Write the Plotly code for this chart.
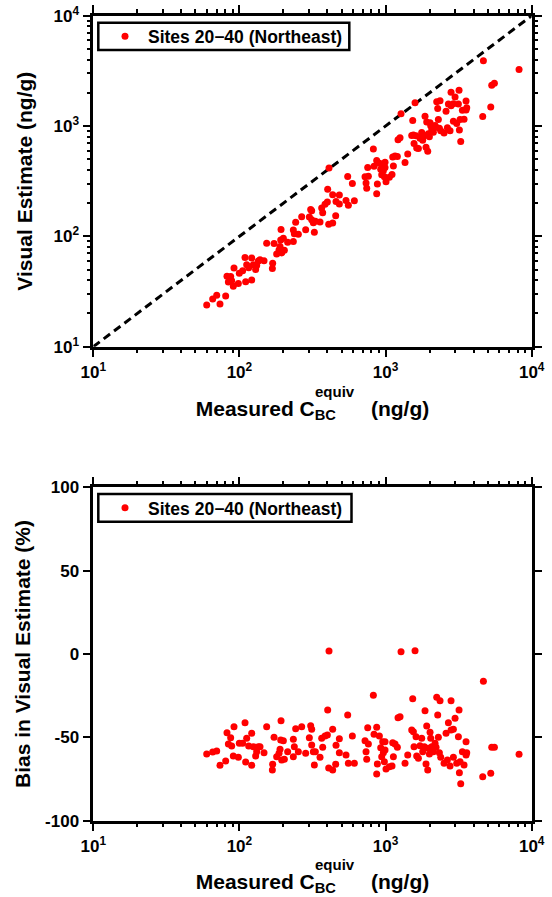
import plotly.graph_objects as go

# ---------------- data ----------------
measured = [
    59.7, 65.6, 69.9, 73.6, 80.5, 82.2, 87.1, 84.0, 88.5, 91.8,
    90.8, 98.3, 99.8, 105.2, 109.2, 112.1, 110.3, 115.7, 121.3, 121.3,
    124.5, 129.1, 131.2, 134.7, 138.3, 147.3, 153.6, 168.8, 168.0, 172.5,
    179.8, 186.6, 189.6, 192.6, 191.6, 199.8, 194.6, 202.9, 213.8, 233.8,
    233.8, 237.5, 242.6, 253.0, 266.7, 284.0, 300.9, 307.3, 312.2, 312.2,
    320.5, 325.6, 330.8, 356.0, 365.5, 371.3, 385.2, 399.6, 401.7, 410.2,
    408.1, 434.6, 434.6, 455.7, 458.1, 482.8, 482.8, 536.3, 550.6, 556.5,
    592.6, 611.6, 723.6, 735.1, 742.9, 754.7, 762.7, 825.0, 833.7, 869.5,
    869.5, 878.8, 907.0, 926.2, 940.9, 955.8, 965.8, 981.3, 991.6, 991.6,
    1007, 1062, 1107, 1119, 1131, 1161, 1204, 1217, 1256, 1276,
    1359, 1418, 1510, 1534, 1550, 1566, 1591, 1616, 1633, 1677,
    1721, 1767, 1795, 1843, 1862, 1892, 1912, 1943, 1963, 1995,
    2016, 2037, 2070, 2124, 2181, 2215, 2239, 2274, 2298, 2335,
    2359, 2384, 2513, 2593, 2649, 2691, 2762, 2806, 2806, 2911,
    2911, 2989, 3068, 3150, 3183, 3200, 3234, 3268, 3355, 3444,
    3554, 3554, 3592, 4671, 4622, 5245, 5328, 5556, 8194,
]
bias_pct = [
    -60.0, -58.8, -58.2, -66.8, -64.2, -47.2, -50.2, -54.0, -55.2, -43.6,
    -61.2, -62.0, -53.6, -53.6, -41.2, -50.6, -64.8, -55.2, -47.6, -66.8,
    -55.6, -61.2, -58.6, -55.6, -55.6, -59.2, -43.6, -66.2, -69.6, -50.0,
    -61.6, -59.6, -57.2, -40.0, -51.6, -52.0, -63.6, -63.2, -58.6, -51.2,
    -61.6, -55.6, -44.8, -58.6, -43.6, -59.6, -50.2, -43.0, -45.2, -54.6,
    -58.6, -66.6, -58.6, -62.0, -50.6, -56.0, -49.2, -48.6, -33.6, 1.8,
    -68.4, -69.6, -45.2, -66.2, -54.8, -50.8, -59.2, -60.6, -36.6, -65.6,
    -49.2, -65.6, -52.0, -58.6, -63.2, -44.2, -54.0, -24.8, -48.2, -44.0,
    -72.0, -66.0, -49.2, -56.2, -61.6, -52.6, -59.2, -64.6, -57.6, -52.6,
    -69.0, -67.6, -67.2, -53.2, -61.6, -54.0, -56.0, -38.2, -37.6, 1.4,
    -65.6, -60.6, -45.6, -26.8, -46.6, -55.6, 2.0, -49.6, -61.2, -62.6,
    -55.0, -50.6, -58.6, -55.6, -34.0, -66.0, -43.2, -69.6, -56.6, -60.0,
    -47.0, -50.6, -55.6, -58.6, -53.6, -56.0, -26.0, -36.6, -50.0, -59.2,
    -28.0, -62.0, -65.6, -47.6, -63.6, -41.2, -67.2, -28.0, -45.6, -45.2,
    -62.0, -38.6, -65.6, -49.6, -33.6, -71.2, -64.6, -77.8, -58.6, -66.6,
    -52.6, -60.6, -59.2, -16.4, -73.6, -71.6, -56.0, -56.0, -60.2,
]
# visual estimate follows from measured value and percentage bias
visual = [m * (1 + b / 100.0) for m, b in zip(measured, bias_pct)]

one_to_one = [10, 10000]
series_name = "Sites 20\u221240 (Northeast)"
log_tickvals = [10, 100, 1000, 10000]
log_ticktext = ["10<sup>1</sup>", "10<sup>2</sup>", "10<sup>3</sup>", "10<sup>4</sup>"]
bias_tickvals = [-100, -50, 0, 50, 100]
bias_ticktext = ["-100", "-50", "0", "50", "100"]
minor_log = [m * 10 ** e for e in (1, 2, 3) for m in range(2, 10)]

# ---------------- styling ----------------
FAM = "Liberation Sans, Arial, Helvetica, sans-serif"
W, H = 552, 897
RED = "#ff0000"

x_dom = [93.3 / W, 531.7 / W]
y1_dom = [1 - 346.7 / H, 1 - 15.7 / H]
y2_dom = [1 - 820.7 / H, 1 - 487.3 / H]

def axis_style(**kw):
    d = dict(
        showline=True, linewidth=2.5, linecolor="black", mirror="ticks",
        ticks="outside", ticklen=8, tickwidth=2, tickcolor="black",
        showgrid=False, zeroline=False, automargin=False,
        tickfont=dict(family=FAM, size=17, color="black", weight="bold"),
    )
    d.update(kw)
    return d

log_minor = dict(tickmode="array", tickvals=minor_log, ticks="outside",
                 ticklen=4, tickwidth=1.5, tickcolor="black", showgrid=False)

fig = go.Figure()
fig.add_trace(go.Scatter(
    x=one_to_one, y=one_to_one, mode="lines",
    line=dict(color="black", width=3, dash="8px,5px"),
    showlegend=False, hoverinfo="skip", xaxis="x", yaxis="y"))
fig.add_trace(go.Scatter(
    x=measured, y=visual, mode="markers", name=series_name,
    marker=dict(color=RED, size=7), legend="legend", xaxis="x", yaxis="y"))
fig.add_trace(go.Scatter(
    x=measured, y=bias_pct, mode="markers", name=series_name,
    marker=dict(color=RED, size=7), legend="legend2", xaxis="x2", yaxis="y2"))

title_font = dict(family=FAM, size=21, color="black", weight="bold")
xtitle = "Measured C<sub>BC</sub>" + "\u00a0" * 6 + "(ng/g)"
leg_font = dict(family=FAM, size=17.5, color="black", weight="bold")

fig.update_layout(
    template="none",
    width=W, height=H,
    margin=dict(l=0, r=0, t=0, b=0, autoexpand=False),
    paper_bgcolor="white", plot_bgcolor="white",
    font=dict(family=FAM, color="black"),
    xaxis=axis_style(type="log", range=[1, 4], domain=x_dom, anchor="y",
                     tickmode="array", tickvals=log_tickvals, ticktext=log_ticktext,
                     minor=log_minor,
                     title=dict(text=xtitle, font=title_font, standoff=21)),
    yaxis=axis_style(type="log", range=[1, 4], domain=y1_dom, anchor="x",
                     tickmode="array", tickvals=log_tickvals, ticktext=log_ticktext,
                     minor=log_minor,
                     title=dict(text="Visual Estimate (ng/g)", font=title_font, standoff=16)),
    xaxis2=axis_style(type="log", range=[1, 4], domain=x_dom, anchor="y2",
                      tickmode="array", tickvals=log_tickvals, ticktext=log_ticktext,
                      minor=log_minor,
                      title=dict(text=xtitle, font=title_font, standoff=20)),
    yaxis2=axis_style(range=[-100, 100], domain=y2_dom, anchor="x2",
                      tickmode="array", tickvals=bias_tickvals, ticktext=bias_ticktext,
                      title=dict(text="Bias in Visual Estimate (%)", font=title_font, standoff=9)),
    legend=dict(x=102 / W, y=1 - 36.4 / H, xanchor="left", yanchor="middle",
                bgcolor="rgba(0,0,0,0)", borderwidth=0, itemwidth=36, font=leg_font),
    legend2=dict(x=102 / W, y=1 - 507.8 / H, xanchor="left", yanchor="middle",
                 bgcolor="rgba(0,0,0,0)", borderwidth=0, itemwidth=36, font=leg_font),
    showlegend=True,
)

# legend frames
for (x0, x1, y0, y1) in ((98.3, 349.3, 22.7, 50.0), (98.3, 351.5, 494.0, 521.7)):
    fig.add_shape(type="rect", xref="paper", yref="paper",
                  x0=x0 / W, x1=x1 / W, y0=1 - y1 / H, y1=1 - y0 / H,
                  line=dict(color="black", width=2.5), fillcolor="rgba(0,0,0,0)")

# stacked superscript "equiv" above the BC subscript in each x title
for ypix in (391.0, 864.0):
    fig.add_annotation(text="equiv", x=335.0 / W, y=1 - ypix / H, xref="paper", yref="paper",
                       showarrow=False, xanchor="center", yanchor="middle",
                       font=dict(family=FAM, size=15, color="black", weight="bold"))

fig.write_html("out.html", config={"displayModeBar": False},
               post_script="document.body.style.margin='0px';")
